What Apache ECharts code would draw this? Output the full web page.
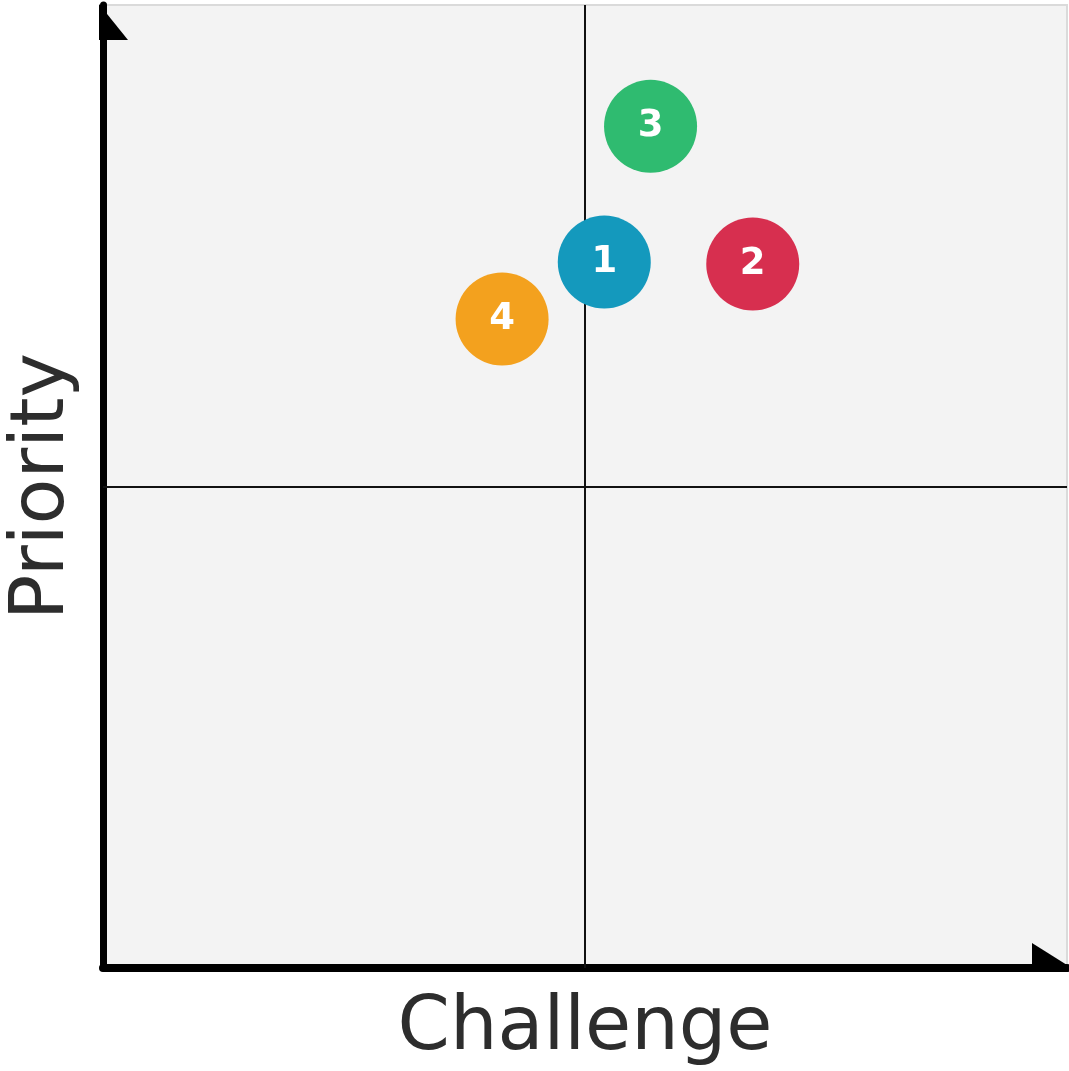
<!DOCTYPE html>
<html>
<head>
<meta charset="utf-8">
<script src="https://cdn.jsdelivr.net/npm/echarts@6/dist/echarts.min.js"></script>
<style>html,body{margin:0;padding:0;background:#fff;}#c{width:1069px;height:1071px;}</style>
</head>
<body>
<div id="c"></div>
<script>
const labels = ['1', '2', '3', '4'];
const challenge = [5.2, 6.74, 5.68, 4.14];
const priority = [7.33, 7.31, 8.74, 6.74];
const colors = ['#1499bd', '#d72f4f', '#2fbb70', '#f3a11e'];
const xTitle = 'Challenge';
const yTitle = 'Priority';

const chart = echarts.init(document.getElementById('c'), null, {renderer: 'canvas'});
const data = labels.map((l, i) => ({
  name: l,
  value: [challenge[i], priority[i]],
  itemStyle: {color: colors[i], opacity: 1}
}));
const font = '"DejaVu Sans", "Noto Sans", sans-serif';
chart.setOption({
  animation: false,
  grid: {left: 103, right: 2, top: 5, bottom: 103, show: true, outerBoundsMode: 'none', containLabel: false,
    backgroundColor: '#f3f3f3', borderColor: '#dadada', borderWidth: 2},
  xAxis: {type: 'value', min: 0, max: 10, interval: 5,
    name: xTitle, nameLocation: 'middle', nameGap: 24,
    nameTextStyle: {fontSize: 75, color: '#2d2d2d', fontFamily: font},
    axisLine: {show: true, onZero: false, lineStyle: {color: '#000', width: 8}},
    axisTick: {show: false}, axisLabel: {show: false}, splitLine: {show: false}},
  yAxis: {type: 'value', min: 0, max: 10, interval: 5,
    name: yTitle, nameLocation: 'middle', nameGap: 22,
    nameTextStyle: {fontSize: 75, color: '#2d2d2d', fontFamily: font},
    axisLine: {show: true, onZero: false, lineStyle: {color: '#000', width: 7}},
    axisTick: {show: false}, axisLabel: {show: false}, splitLine: {show: false}},
  series: [{
    type: 'scatter',
    symbolSize: 93,
    data: data,
    z: 5,
    label: {show: true, position: 'inside', formatter: p => p.name,
      color: '#fff', fontSize: 37, fontWeight: 'bold', fontFamily: '"DejaVu Sans", sans-serif'},
    emphasis: {disabled: true},
    markLine: {
      silent: true, symbol: 'none', z: 1,
      lineStyle: {color: '#111', width: 2, type: 'solid'},
      label: {show: false},
      data: [{xAxis: 5}, {yAxis: 5}]
    }
  }]
});

function addArrows() {
  const tl = chart.convertToPixel({gridIndex: 0}, [0, 10]);
  const br = chart.convertToPixel({gridIndex: 0}, [10, 0]);
  chart.setOption({graphic: [
    {type: 'polygon', z: 10, shape: {points: [[tl[0] - 4, tl[1] - 1], [tl[0] + 25, tl[1] + 35], [tl[0] - 4, tl[1] + 35]]},
      style: {fill: '#000'}},
    {type: 'polygon', z: 10, shape: {points: [[br[0] - 35, br[1] - 25], [br[0], br[1] - 3], [br[0], br[1] + 4], [br[0] - 35, br[1] + 4]]},
      style: {fill: '#000'}}
  ]});
}
addArrows();
</script>
</body>
</html>
